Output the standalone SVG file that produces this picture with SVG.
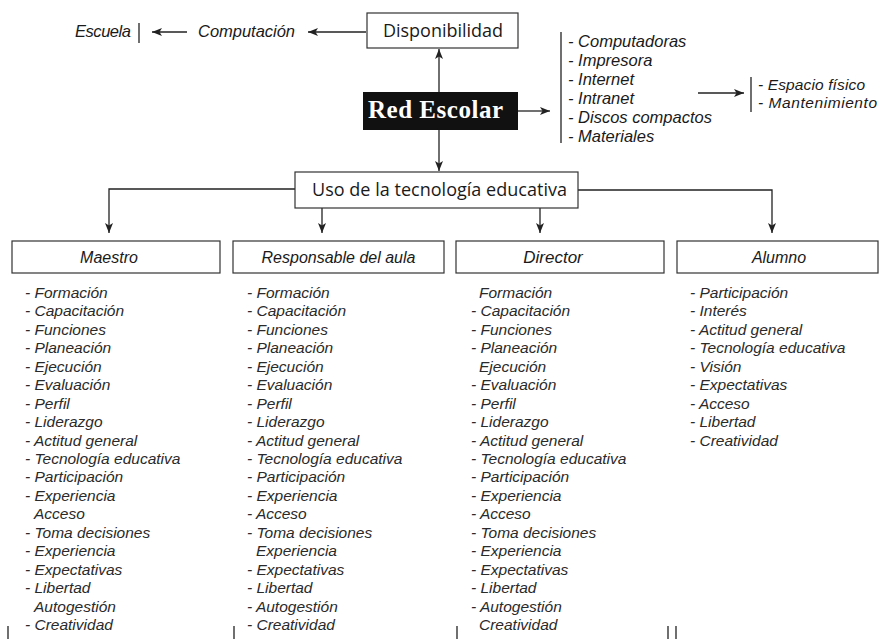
<svg xmlns="http://www.w3.org/2000/svg" width="881" height="639" viewBox="0 0 881 639">
<defs>
<style>
.bg{fill:#ffffff}
.ln{stroke:#222;stroke-width:1.3;fill:none}
.box{fill:#fff;stroke:#333;stroke-width:1.2}
.it{font-family:"Liberation Sans","Arimo",sans-serif;font-style:italic;fill:#1a1a1a}
.top{font-size:16.5px}
.sm{font-size:15.5px}
.lab{font-size:16px}
.lst{font-size:15.5px;fill:#2a2a2a}
.reg{font-family:"Open Sans","Noto Sans",sans-serif;font-size:18px;fill:#1a1a1a}
.red{font-family:"Liberation Serif","DejaVu Serif",serif;font-weight:bold;font-size:25px;fill:#fff}
.mid{text-anchor:middle}
</style>
<marker id="ah" viewBox="0 0 10 8" refX="10" refY="4" markerWidth="10" markerHeight="8" orient="auto" markerUnits="userSpaceOnUse">
<path d="M0,0 L10,4 L0,8 L2.5,4 Z" fill="#222"/>
</marker>
</defs>
<rect class="bg" x="0" y="0" width="881" height="639"/>

<g id="connectors">
<line class="ln" x1="366" y1="32" x2="308" y2="32" marker-end="url(#ah)"/>
<line class="ln" x1="187" y1="32" x2="152" y2="32" marker-end="url(#ah)"/>
<line class="ln" x1="439" y1="92" x2="439" y2="49" marker-end="url(#ah)"/>
<line class="ln" x1="518" y1="111" x2="550" y2="111" marker-end="url(#ah)"/>
<line class="ln" x1="698" y1="93" x2="744" y2="93" marker-end="url(#ah)"/>
<line class="ln" x1="439" y1="130" x2="439" y2="171" marker-end="url(#ah)"/>
<path class="ln" d="M295,189 H109 V233" marker-end="url(#ah)"/>
<line class="ln" x1="322" y1="208" x2="322" y2="233" marker-end="url(#ah)"/>
<line class="ln" x1="540" y1="208" x2="540" y2="233" marker-end="url(#ah)"/>
<path class="ln" d="M578,190 H772 V233" marker-end="url(#ah)"/>
</g>

<g id="escuela">
<text class="it top" x="75" y="37" textLength="56">Escuela</text>
<line class="ln" x1="139" y1="23" x2="139" y2="43"/>
</g>

<g id="computacion">
<text class="it top" x="198" y="37" textLength="97">Computación</text>
</g>

<g id="disponibilidad">
<rect class="box" x="367" y="13" width="151" height="35"/>
<text class="reg" x="383" y="37" textLength="120">Disponibilidad</text>
</g>

<g id="red-escolar">
<rect x="363" y="92" width="155" height="38" fill="#111"/>
<text class="red" x="368" y="118" textLength="135">Red Escolar</text>
</g>

<g id="recursos">
<line class="ln" x1="561" y1="32" x2="561" y2="143"/>
<text class="it top" x="568" y="47">- Computadoras</text>
<text class="it top" x="568" y="66">- Impresora</text>
<text class="it top" x="568" y="85">- Internet</text>
<text class="it top" x="568" y="104">- Intranet</text>
<text class="it top" x="568" y="123">- Discos compactos</text>
<text class="it top" x="568" y="142">- Materiales</text>
</g>

<g id="espacio">
<line class="ln" x1="751" y1="77" x2="751" y2="112"/>
<text class="it sm" x="758" y="90" textLength="107">- Espacio físico</text>
<text class="it sm" x="758" y="107.5" textLength="119">- Mantenimiento</text>
</g>

<g id="uso">
<rect class="box" x="295" y="172" width="283" height="36"/>
<text class="reg" x="312" y="196" textLength="255">Uso de la tecnología educativa</text>
</g>

<g id="maestro">
<rect class="box" x="12" y="241" width="208" height="32"/>
<text class="it lab mid" x="109" y="263">Maestro</text>
<g class="it lst">
<text x="25" y="298">- Formación</text>
<text x="25" y="316.4">- Capacitación</text>
<text x="25" y="334.9">- Funciones</text>
<text x="25" y="353.3">- Planeación</text>
<text x="25" y="371.8">- Ejecución</text>
<text x="25" y="390.2">- Evaluación</text>
<text x="25" y="408.6">- Perfil</text>
<text x="25" y="427.1">- Liderazgo</text>
<text x="25" y="445.5">- Actitud general</text>
<text x="25" y="464">- Tecnología educativa</text>
<text x="25" y="482.4">- Participación</text>
<text x="25" y="500.8">- Experiencia</text>
<text x="34" y="519.3">Acceso</text>
<text x="25" y="537.7">- Toma decisiones</text>
<text x="25" y="556.2">- Experiencia</text>
<text x="25" y="574.6">- Expectativas</text>
<text x="25" y="593">- Libertad</text>
<text x="34" y="611.5">Autogestión</text>
<text x="25" y="629.9">- Creatividad</text>
</g>
</g>

<g id="responsable">
<rect class="box" x="233" y="241" width="211" height="32"/>
<text class="it lab mid" x="338.5" y="263">Responsable del aula</text>
<g class="it lst">
<text x="247" y="298">- Formación</text>
<text x="247" y="316.4">- Capacitación</text>
<text x="247" y="334.9">- Funciones</text>
<text x="247" y="353.3">- Planeación</text>
<text x="247" y="371.8">- Ejecución</text>
<text x="247" y="390.2">- Evaluación</text>
<text x="247" y="408.6">- Perfil</text>
<text x="247" y="427.1">- Liderazgo</text>
<text x="247" y="445.5">- Actitud general</text>
<text x="247" y="464">- Tecnología educativa</text>
<text x="247" y="482.4">- Participación</text>
<text x="247" y="500.8">- Experiencia</text>
<text x="247" y="519.3">- Acceso</text>
<text x="247" y="537.7">- Toma decisiones</text>
<text x="256" y="556.2">Experiencia</text>
<text x="247" y="574.6">- Expectativas</text>
<text x="247" y="593">- Libertad</text>
<text x="247" y="611.5">- Autogestión</text>
<text x="247" y="629.9">- Creatividad</text>
</g>
</g>

<g id="director">
<rect class="box" x="456" y="241" width="208" height="32"/>
<text class="it lab mid" x="553" y="263" style="font-size:17px">Director</text>
<g class="it lst">
<text x="479" y="298">Formación</text>
<text x="471" y="316.4">- Capacitación</text>
<text x="471" y="334.9">- Funciones</text>
<text x="471" y="353.3">- Planeación</text>
<text x="479" y="371.8">Ejecución</text>
<text x="471" y="390.2">- Evaluación</text>
<text x="471" y="408.6">- Perfil</text>
<text x="471" y="427.1">- Liderazgo</text>
<text x="471" y="445.5">- Actitud general</text>
<text x="471" y="464">- Tecnología educativa</text>
<text x="471" y="482.4">- Participación</text>
<text x="471" y="500.8">- Experiencia</text>
<text x="471" y="519.3">- Acceso</text>
<text x="471" y="537.7">- Toma decisiones</text>
<text x="471" y="556.2">- Experiencia</text>
<text x="471" y="574.6">- Expectativas</text>
<text x="471" y="593">- Libertad</text>
<text x="471" y="611.5">- Autogestión</text>
<text x="479" y="629.9">Creatividad</text>
</g>
</g>

<g id="alumno">
<rect class="box" x="677" y="241" width="201" height="32"/>
<text class="it lab mid" x="779" y="263">Alumno</text>
<g class="it lst">
<text x="690" y="298">- Participación</text>
<text x="690" y="316.4">- Interés</text>
<text x="690" y="334.9">- Actitud general</text>
<text x="690" y="353.3">- Tecnología educativa</text>
<text x="690" y="371.8">- Visión</text>
<text x="690" y="390.2">- Expectativas</text>
<text x="690" y="408.6">- Acceso</text>
<text x="690" y="427.1">- Libertad</text>
<text x="690" y="445.5">- Creatividad</text>
</g>
</g>

<g id="bottom-edges">
<line class="ln" x1="8" y1="626" x2="8" y2="639"/>
<line class="ln" x1="234" y1="626" x2="234" y2="639"/>
<line class="ln" x1="457" y1="626" x2="457" y2="639"/>
<line class="ln" x1="668" y1="626" x2="668" y2="639"/>
<line class="ln" x1="676" y1="626" x2="676" y2="639"/>
</g>
</svg>
